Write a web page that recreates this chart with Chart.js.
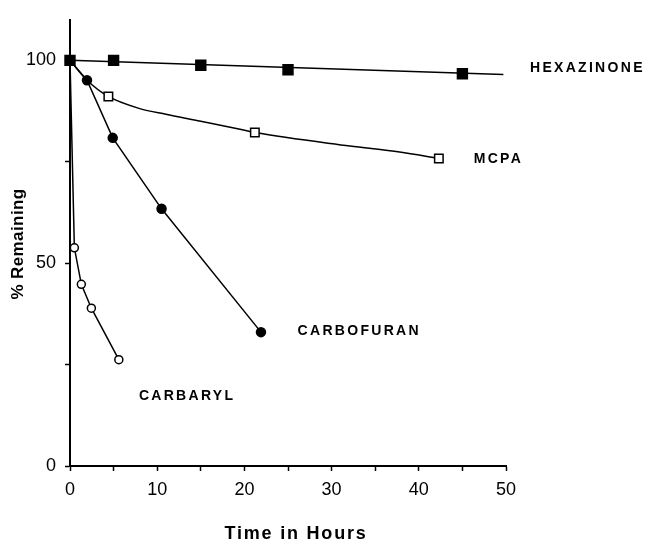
<!DOCTYPE html>
<html>
<head>
<meta charset="utf-8">
<script src="https://cdn.jsdelivr.net/npm/chart.js@4.4.1/dist/chart.umd.min.js"></script>
<style>
    html, body { margin: 0; padding: 0; background: #FFFFFF; }
    #wrap { width: 650px; height: 544px; }
</style>
</head>
<body>
<div id="wrap"><canvas id="decayChart" width="650" height="544"></canvas></div>
<script>
// Données (temps en heures, % restant)
const hexTime = [0, 5, 15, 25, 45];
const hexPct = [100, 100, 98.8, 97.7, 96.7];
const hexFitTime = [0, 49.7];
const hexFitPct = [100, 96.5];

const mcpaTime = [0, 4.4, 21.2, 42.3];
const mcpaPct = [100, 91.1, 82.2, 75.8];
const mcpaFitTime = [0, 1.95, 4.4, 8, 11, 15, 19.5, 21.2, 32.1, 37.8, 42.3];
const mcpaFitPct = [100, 95.1, 91.1, 88.1, 86.7, 85.0, 83.0, 82.2, 78.9, 77.4, 75.8];

const carbofuranTime = [0, 1.95, 4.9, 10.5, 21.9];
const carbofuranPct = [100, 95.1, 80.9, 63.4, 33.0];

const carbarylTime = [0, 0.5, 1.3, 2.45, 5.6];
const carbarylPct = [100, 53.8, 44.8, 38.9, 26.2];

const xTicks = [0, 5, 10, 15, 20, 25, 30, 35, 40, 45, 50];
const yTicks = [0, 25, 50, 75, 100];

const seriesNames = ['HEXAZINONE', 'MCPA', 'CARBOFURAN', 'CARBARYL'];
const labelAnchorX = [52.75, 46.3, 26.1, 7.9];
const labelAnchorY = [98.0, 75.6, 33.3, 17.2];

const xTitle = 'Time in Hours';
const yTitle = '% Remaining';

const toPoints = (xs, ys) => xs.map((x, i) => ({ x: x, y: ys[i] }));

const FONT = "'Liberation Sans', Arial, Helvetica, sans-serif";

// Courbes (sans marqueurs)
function curve(xs, ys, extra = {}) {
    return Object.assign({
        data: toPoints(xs, ys),
        showLine: true,
        borderColor: '#000000',
        borderWidth: 1.5,
        pointRadius: 0,
        tension: 0,
        clip: false,
        order: 2
    }, extra);
}

// Marqueurs (sans ligne)
function markers(xs, ys, style, radius, filled) {
    return {
        data: toPoints(xs, ys),
        showLine: false,
        pointStyle: style,
        pointRadius: radius,
        pointBorderWidth: 1.5,
        pointBorderColor: '#000000',
        pointBackgroundColor: filled ? '#000000' : '#FFFFFF',
        clip: false,
        order: 1
    };
}

// Étiquettes des séries + titres des axes (espacement des lettres)
const textLayer = {
    id: 'textLayer',
    afterDatasetsDraw(chart) {
        const { ctx, chartArea, scales: { x, y } } = chart;
        ctx.save();
        ctx.fillStyle = '#000000';
        ctx.textBaseline = 'middle';

        ctx.font = 'bold 14px ' + FONT;
        ctx.textAlign = 'left';
        ctx.letterSpacing = '2.3px';
        seriesNames.forEach((name, i) => {
            ctx.fillText(name, x.getPixelForValue(labelAnchorX[i]), y.getPixelForValue(labelAnchorY[i]));
        });

        // titre X
        ctx.font = 'bold 18px ' + FONT;
        ctx.textAlign = 'center';
        ctx.letterSpacing = '1.8px';
        ctx.fillText(xTitle, (chartArea.left + chartArea.right) / 2 + 8, 534);

        // titre Y
        ctx.font = 'bold 17px ' + FONT;
        ctx.letterSpacing = '0.4px';
        ctx.translate(18, 244);
        ctx.rotate(-Math.PI / 2);
        ctx.fillText(yTitle, 0, 0);
        ctx.restore();
    }
};

new Chart(document.getElementById('decayChart'), {
    type: 'scatter',
    data: {
        datasets: [
            curve(hexFitTime, hexFitPct),
            curve(mcpaFitTime, mcpaFitPct, { cubicInterpolationMode: 'monotone' }),
            curve(carbofuranTime, carbofuranPct),
            curve(carbarylTime, carbarylPct),
            markers(hexTime, hexPct, 'rect', 7, true),
            markers(mcpaTime, mcpaPct, 'rect', 6, false),
            markers(carbofuranTime, carbofuranPct, 'circle', 4.5, true),
            markers(carbarylTime, carbarylPct, 'circle', 4, false)
        ]
    },
    options: {
        responsive: false,
        animation: false,
        layout: { padding: { top: 13, right: 144, left: 0, bottom: 0 } },
        plugins: {
            legend: { display: false },
            tooltip: { enabled: false }
        },
        scales: {
            x: {
                type: 'linear',
                min: 0,
                max: 50,
                afterBuildTicks: s => { s.ticks = xTicks.map(v => ({ value: v })); },
                afterFit: s => { s.height = 78; },
                ticks: {
                    color: '#000000',
                    font: { family: FONT, size: 18 },
                    padding: 8,
                    maxRotation: 0,
                    autoSkip: false,
                    callback: v => (v % 10 === 0 ? String(v) : '')
                },
                grid: {
                    drawOnChartArea: false,
                    tickLength: 5,
                    tickColor: '#000000',
                    tickWidth: 1.5
                },
                border: { color: '#000000', width: 2 }
            },
            y: {
                type: 'linear',
                min: 0,
                max: 110,
                afterBuildTicks: s => { s.ticks = yTicks.map(v => ({ value: v })); },
                afterFit: s => { s.width = 70; },
                ticks: {
                    color: '#000000',
                    font: { family: FONT, size: 18 },
                    padding: 9,
                    autoSkip: false,
                    callback: v => (v % 50 === 0 ? String(v) : '')
                },
                grid: {
                    drawOnChartArea: false,
                    tickLength: 5,
                    tickColor: '#000000',
                    tickWidth: 1.5
                },
                border: { color: '#000000', width: 2 }
            }
        }
    },
    plugins: [textLayer]
});
</script>
</body>
</html>
